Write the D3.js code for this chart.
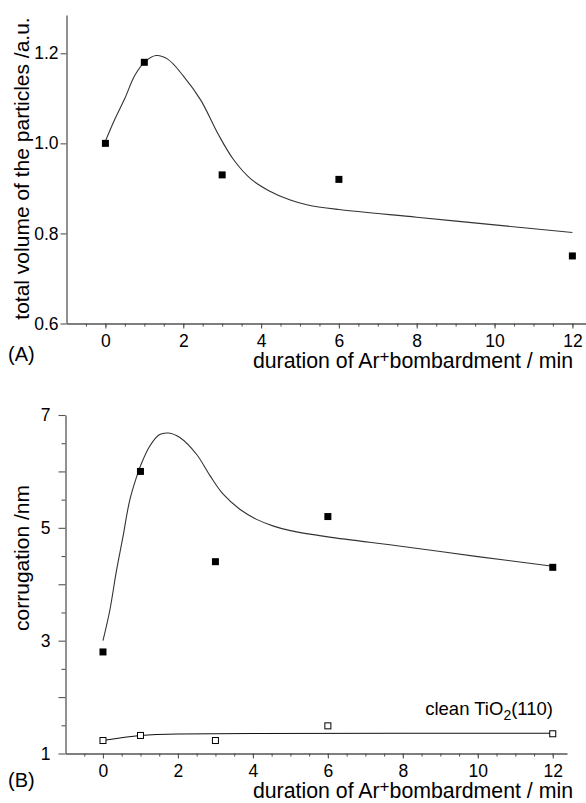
<!DOCTYPE html>
<html><head><meta charset="utf-8">
<script src="https://cdn.jsdelivr.net/npm/d3@7"></script>
<style>
html,body{margin:0;padding:0;background:#fff;}
svg{display:block;font-family:"Liberation Sans",Arial,Helvetica,sans-serif;}
</style></head>
<body>
<svg id="chart" width="586" height="803"></svg>
<script>
// ---- data ----
const durations = [0, 1, 3, 6, 12];
const volumeValues = [1.0, 1.18, 0.93, 0.92, 0.75];
const corrugationValues = [2.8, 6.0, 4.4, 5.2, 4.3];
const cleanValues = [1.23, 1.32, 1.23, 1.49, 1.35];

const volumeFitX = [0, 0.25, 0.5, 0.75, 1.0, 1.3, 1.6, 2.0, 2.45, 2.9, 3.3, 3.75, 4.2, 4.75, 5.2, 6, 8, 10, 12];
const volumeFitY = [1.005, 1.055, 1.10, 1.15, 1.18, 1.195, 1.187, 1.15, 1.096, 1.02, 0.963, 0.92, 0.895, 0.874, 0.863, 0.853, 0.836, 0.819, 0.802];

const corrFitX = [0, 0.18, 0.36, 0.53, 0.71, 0.89, 1.02, 1.25, 1.5, 1.75, 2.05, 2.5, 2.85, 3.2, 3.65, 4.1, 4.55, 5.0, 6, 8, 10, 12];
const corrFitY = [3.0, 3.53, 4.24, 4.83, 5.48, 5.89, 6.13, 6.45, 6.65, 6.68, 6.6, 6.3, 5.93, 5.6, 5.33, 5.15, 5.03, 4.95, 4.84, 4.67, 4.49, 4.32];

const cleanFitX = [0, 1, 2, 4, 8, 12];
const cleanFitY = [1.23, 1.32, 1.345, 1.355, 1.36, 1.36];

const xMajorTicks = [0, 2, 4, 6, 8, 10, 12];
const xMinorTicks = d3.range(-0.5, 12.01, 0.5);
const volumeTicks = [0.6, 0.8, 1.0, 1.2];
const corrMajorTicks = [1, 2, 3, 4, 5, 6, 7];
const corrLabelTicks = [1, 3, 5, 7];
const corrMinorTicks = d3.range(1.5, 7, 1);

const xTitle = "duration of Ar";
const xTitleSup = "+";
const xTitleRest = "bombardment / min";

// ---- drawing ----
const svg = d3.select("#chart");
const axisColor = "#555";
const curveColor = "#333";

function styleAxis(g) {
  g.select(".domain").attr("stroke", axisColor).attr("stroke-width", 1.3);
  g.selectAll(".tick line").attr("stroke", axisColor).attr("stroke-width", 1.1);
  g.selectAll(".tick text").attr("fill", "#000").attr("font-family", "Liberation Sans, Arial, sans-serif");
}

function xTitleText(x, y) {
  const t = svg.append("text").attr("x", x).attr("y", y).attr("text-anchor", "end")
    .attr("font-size", 21.3).attr("fill", "#000");
  t.append("tspan").text(xTitle);
  t.append("tspan").attr("dy", -6).attr("font-size", 17).text(xTitleSup);
  t.append("tspan").attr("dy", 6).text(xTitleRest);
}

// Panel A
const xA = d3.scaleLinear().domain([-1, 12.35]).range([66.5, 586]);
const yA = d3.scaleLinear().domain([0.6, 1.285]).range([323.5, 15]);

svg.append("g").attr("transform", `translate(0,${yA(0.6)})`)
  .call(d3.axisBottom(xA).tickValues(xMinorTicks).tickSize(3).tickSizeOuter(0).tickFormat(""))
  .call(styleAxis);
svg.append("g").attr("transform", `translate(0,${yA(0.6)})`)
  .call(d3.axisBottom(xA).tickValues(xMajorTicks).tickSize(5).tickSizeOuter(0).tickPadding(6).tickFormat(d3.format("d")))
  .call(styleAxis)
  .call(g => g.select(".domain").remove())
  .call(g => g.selectAll(".tick text").attr("font-size", 17.5));
svg.append("g").attr("transform", `translate(${xA(-1)},0)`)
  .call(d3.axisLeft(yA).tickValues(volumeTicks).tickSize(6).tickSizeOuter(0).tickPadding(2).tickFormat(d3.format(".1f")))
  .call(styleAxis)
  .call(g => g.selectAll(".tick text").attr("font-size", 17.5));

const lineA = d3.line().x((d, i) => xA(volumeFitX[i])).y(d => yA(d)).curve(d3.curveCatmullRom.alpha(0.5));
svg.append("path").datum(volumeFitY).attr("d", lineA)
  .attr("fill", "none").attr("stroke", curveColor).attr("stroke-width", 1.1);

svg.append("g").selectAll("rect").data(volumeValues).join("rect")
  .attr("x", (d, i) => xA(durations[i]) - 3.5).attr("y", d => yA(d) - 3.5)
  .attr("width", 7).attr("height", 7).attr("fill", "#000");

svg.append("text").attr("x", 29).attr("y", 168.5)
  .attr("transform", "rotate(-90,29,168.5)").attr("text-anchor", "middle")
  .attr("font-size", 21).attr("fill", "#000").text("total volume of the particles /a.u.");
svg.append("text").attr("x", 8).attr("y", 361).attr("font-size", 20).attr("fill", "#000").text("(A)");
xTitleText(573, 368);

// Panel B
const xB = d3.scaleLinear().domain([-1, 12.38]).range([65.5, 567]);
const yB = d3.scaleLinear().domain([1, 7]).range([753.5, 415]);

svg.append("g").attr("transform", `translate(0,${yB(1)})`)
  .call(d3.axisBottom(xB).tickValues(xMinorTicks).tickSize(3).tickSizeOuter(0).tickFormat(""))
  .call(styleAxis);
svg.append("g").attr("transform", `translate(0,${yB(1)})`)
  .call(d3.axisBottom(xB).tickValues(xMajorTicks).tickSize(5).tickSizeOuter(0).tickPadding(6).tickFormat(d3.format("d")))
  .call(styleAxis)
  .call(g => g.select(".domain").remove())
  .call(g => g.selectAll(".tick text").attr("font-size", 17.5));
svg.append("g").attr("transform", `translate(${xB(-1)},0)`)
  .call(d3.axisLeft(yB).tickValues(corrMinorTicks).tickSize(4).tickSizeOuter(0).tickFormat(""))
  .call(styleAxis);
svg.append("g").attr("transform", `translate(${xB(-1)},0)`)
  .call(d3.axisLeft(yB).tickValues(corrMajorTicks).tickSize(7).tickSizeOuter(0).tickPadding(8)
    .tickFormat(d => corrLabelTicks.includes(d) ? d3.format("d")(d) : ""))
  .call(styleAxis)
  .call(g => g.select(".domain").remove())
  .call(g => g.selectAll(".tick text").attr("font-size", 17.5));

const lineB = d3.line().x((d, i) => xB(corrFitX[i])).y(d => yB(d)).curve(d3.curveCatmullRom.alpha(0.5));
svg.append("path").datum(corrFitY).attr("d", lineB)
  .attr("fill", "none").attr("stroke", curveColor).attr("stroke-width", 1.1);

const lineC = d3.line().x((d, i) => xB(cleanFitX[i])).y(d => yB(d)).curve(d3.curveMonotoneX);
svg.append("path").datum(cleanFitY).attr("d", lineC)
  .attr("fill", "none").attr("stroke", "#111").attr("stroke-width", 1.1);

svg.append("g").selectAll("rect").data(corrugationValues).join("rect")
  .attr("x", (d, i) => xB(durations[i]) - 3.5).attr("y", d => yB(d) - 3.5)
  .attr("width", 7).attr("height", 7).attr("fill", "#000");

svg.append("g").selectAll("rect").data(cleanValues).join("rect")
  .attr("x", (d, i) => xB(durations[i]) - 3).attr("y", d => yB(d) - 3)
  .attr("width", 6).attr("height", 6).attr("fill", "#fff").attr("stroke", "#000").attr("stroke-width", 1);

svg.append("text").attr("x", 28.5).attr("y", 558)
  .attr("transform", "rotate(-90,28.5,558)").attr("text-anchor", "middle")
  .attr("font-size", 21).attr("fill", "#000").text("corrugation /nm");
svg.append("text").attr("x", 8).attr("y", 787).attr("font-size", 20).attr("fill", "#000").text("(B)");
xTitleText(573, 798);

const cl = svg.append("text").attr("x", 553).attr("y", 715).attr("text-anchor", "end")
  .attr("font-size", 18.5).attr("fill", "#000");
cl.append("tspan").text("clean TiO");
cl.append("tspan").attr("dy", 5).attr("font-size", 14).text("2");
cl.append("tspan").attr("dy", -5).text("(110)");
</script>
</body></html>
